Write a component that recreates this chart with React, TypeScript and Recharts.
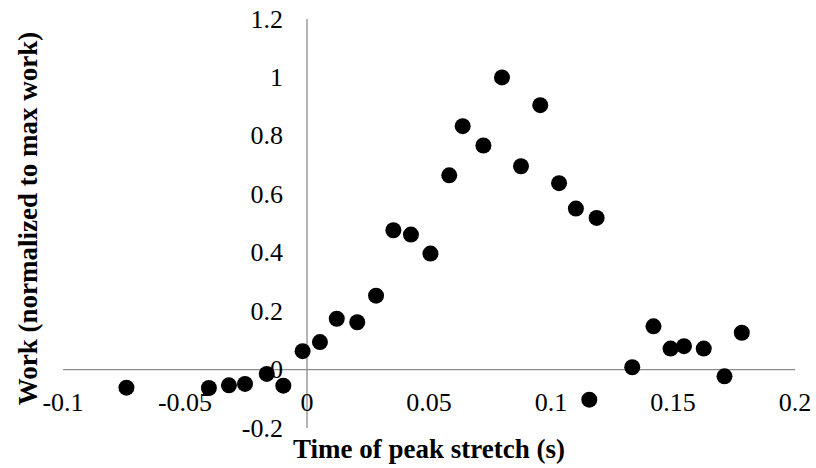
import React from 'react';
import { ScatterChart, Scatter, XAxis, YAxis, ReferenceLine } from 'recharts';

// time of peak stretch (s)
const peakTimes = [
  -0.074, -0.0402, -0.032, -0.0254, -0.0165, -0.0097, -0.0018, 0.0053, 0.0122, 0.0206,
  0.0283, 0.0354, 0.0426, 0.0506, 0.0583, 0.0638, 0.0723, 0.0799, 0.0877, 0.0956,
  0.1033, 0.1102, 0.1187, 0.1157, 0.1333, 0.142, 0.149, 0.1545, 0.1626, 0.1711, 0.1782,
];

// work normalized to max work
const workValues = [
  -0.062, -0.063, -0.054, -0.049, -0.015, -0.055, 0.063, 0.094, 0.174, 0.162,
  0.253, 0.477, 0.462, 0.397, 0.665, 0.833, 0.767, 1.0, 0.696, 0.905,
  0.638, 0.551, 0.519, -0.103, 0.008, 0.148, 0.072, 0.08, 0.072, -0.023, 0.126,
];

const xTicks = [-0.1, -0.05, 0, 0.05, 0.1, 0.15, 0.2];
const yTicks = [-0.2, 0, 0.2, 0.4, 0.6, 0.8, 1, 1.2];

const data = peakTimes.map((t, i) => ({ t, work: workValues[i] }));

const W = 816;
const H = 468;
const PLOT_LEFT = 63;
const PLOT_RIGHT = 795;
const PLOT_TOP = 19;
const PLOT_BOTTOM = 428;
const X_MIN = xTicks[0];
const X_MAX = xTicks[xTicks.length - 1];
const ZERO_X = PLOT_LEFT + ((PLOT_RIGHT - PLOT_LEFT) * (0 - X_MIN)) / (X_MAX - X_MIN);

const FONT = 'Times New Roman, Liberation Serif, DejaVu Serif, serif';
const fmt = (v: number) => String(Number(v.toFixed(2)));

const XTick = ({ x, payload }: any) => (
  <text x={x} y={PLOT_BOTTOM - 26} textAnchor="middle" dominantBaseline="central"
    fontFamily={FONT} fontSize={26} fill="#000">
    {fmt(payload.value)}
  </text>
);

const YTick = ({ y, payload }: any) => (
  <text x={ZERO_X - 24} y={y} textAnchor="end" dominantBaseline="central"
    fontFamily={FONT} fontSize={26} fill="#000">
    {fmt(payload.value)}
  </text>
);

const Dot = ({ cx, cy }: any) => <circle cx={cx} cy={cy} r={8} fill="#000" />;

export default function App() {
  return (
    <div style={{ position: 'absolute', left: 0, top: 0, width: W, height: H, background: '#fff' }}>
      <ScatterChart width={W} height={H}
        margin={{ top: PLOT_TOP, right: W - PLOT_RIGHT, bottom: 0, left: 0 }}>
        <XAxis type="number" dataKey="t" domain={[X_MIN, X_MAX]} ticks={xTicks} interval={0}
          axisLine={false} tickLine={false} tick={<XTick />} height={H - PLOT_BOTTOM}
          label={({ viewBox }: any) => (
            <text x={viewBox.x + viewBox.width / 2} y={viewBox.y + 21} textAnchor="middle"
              dominantBaseline="central" fontFamily={FONT} fontSize={27} fontWeight="bold" fill="#000">
              Time of peak stretch (s)
            </text>
          )} />
        <YAxis type="number" dataKey="work" domain={[-0.2, 1.2]} ticks={yTicks} interval={0}
          axisLine={false} tickLine={false} tick={<YTick />} width={PLOT_LEFT}
          label={({ viewBox }: any) => {
            const cx = viewBox.x + 28;
            const cy = viewBox.y + viewBox.height / 2 - 5;
            return (
              <text x={cx} y={cy} transform={`rotate(-90 ${cx} ${cy})`} textAnchor="middle"
                dominantBaseline="central" fontFamily={FONT} fontSize={27} fontWeight="bold" fill="#000">
                Work (normalized to max work)
              </text>
            );
          }} />
        <ReferenceLine y={0} stroke="#8c8c8c" strokeWidth={1.3} />
        <ReferenceLine x={0} stroke="#8c8c8c" strokeWidth={1.3} />
        <Scatter data={data} fill="#000" shape={<Dot />} isAnimationActive={false} />
      </ScatterChart>
    </div>
  );
}
